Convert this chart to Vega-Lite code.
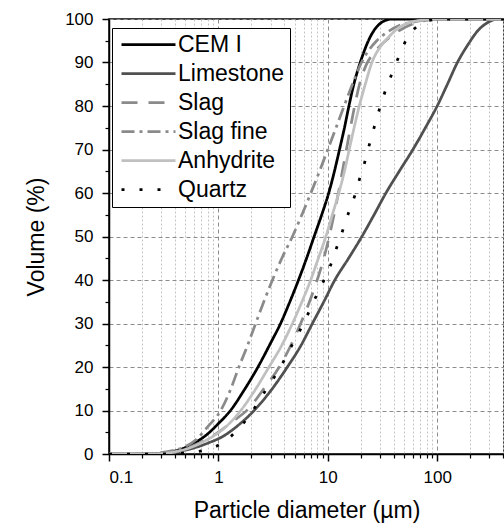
{
  "$schema": "https://vega.github.io/schema/vega-lite/v6.json",
  "width": 395,
  "height": 435,
  "autosize": {"type": "none"},
  "padding": {"left": 109, "top": 19, "right": 0, "bottom": 71},
  "background": "white",
  "view": {"stroke": "black", "strokeWidth": 1.5},
  "config": {
    "font": "Liberation Sans",
    "axis": {
      "labelFont": "Liberation Sans", "titleFont": "Liberation Sans",
      "labelColor": "black", "titleColor": "black",
      "domainColor": "black", "tickColor": "black",
      "titleFontWeight": "normal"
    },
    "legend": {
      "orient": "none", "legendX": 3, "legendY": 9,
      "symbolType": "M-5,0H5", "symbolSize": 116.64, "symbolStrokeWidth": 2.75,
      "symbolOffset": 20, "labelOffset": 18,
      "labelFont": "Liberation Sans", "labelFontSize": 23, "labelColor": "black",
      "padding": 5, "rowPadding": 5,
      "strokeColor": "black", "fillColor": "white", "cornerRadius": 0
    }
  },
  "data": {"values": [
    {"s":"CEM I","d":0.1,"v":0},{"s":"CEM I","d":0.2,"v":0},{"s":"CEM I","d":0.3,"v":0.2},{"s":"CEM I","d":0.4,"v":0.7},{"s":"CEM I","d":0.5,"v":1.5},{"s":"CEM I","d":0.6,"v":2.5},{"s":"CEM I","d":0.77,"v":4.3},{"s":"CEM I","d":1.0,"v":7},{"s":"CEM I","d":1.29,"v":10},{"s":"CEM I","d":1.7,"v":14.5},{"s":"CEM I","d":2.3,"v":20},{"s":"CEM I","d":3.0,"v":25.5},{"s":"CEM I","d":3.7,"v":30},{"s":"CEM I","d":4.5,"v":35},{"s":"CEM I","d":5.4,"v":40},{"s":"CEM I","d":6.4,"v":45},{"s":"CEM I","d":7.5,"v":50},{"s":"CEM I","d":8.8,"v":55},{"s":"CEM I","d":10.2,"v":60},{"s":"CEM I","d":11.5,"v":65},{"s":"CEM I","d":12.8,"v":70},{"s":"CEM I","d":14.2,"v":75},{"s":"CEM I","d":15.6,"v":80},{"s":"CEM I","d":17.3,"v":85},{"s":"CEM I","d":19.8,"v":90},{"s":"CEM I","d":23.5,"v":95},{"s":"CEM I","d":27,"v":97.7},{"s":"CEM I","d":31,"v":99.2},{"s":"CEM I","d":36,"v":99.9},{"s":"CEM I","d":40,"v":100},{"s":"CEM I","d":408,"v":100},
    {"s":"Limestone","d":0.1,"v":0},{"s":"Limestone","d":0.2,"v":0},{"s":"Limestone","d":0.3,"v":0.1},{"s":"Limestone","d":0.4,"v":0.4},{"s":"Limestone","d":0.5,"v":0.9},{"s":"Limestone","d":0.6,"v":1.4},{"s":"Limestone","d":0.8,"v":2.5},{"s":"Limestone","d":1.09,"v":4},{"s":"Limestone","d":1.5,"v":6.5},{"s":"Limestone","d":2.12,"v":10},{"s":"Limestone","d":3.0,"v":14.5},{"s":"Limestone","d":4.27,"v":20},{"s":"Limestone","d":5.7,"v":25},{"s":"Limestone","d":7.23,"v":30},{"s":"Limestone","d":9.2,"v":35},{"s":"Limestone","d":11.6,"v":40},{"s":"Limestone","d":15.5,"v":45},{"s":"Limestone","d":20.5,"v":50},{"s":"Limestone","d":26.5,"v":55},{"s":"Limestone","d":34,"v":60},{"s":"Limestone","d":45,"v":65},{"s":"Limestone","d":60,"v":70},{"s":"Limestone","d":78,"v":75},{"s":"Limestone","d":100,"v":80},{"s":"Limestone","d":124,"v":85},{"s":"Limestone","d":153,"v":90},{"s":"Limestone","d":190,"v":94},{"s":"Limestone","d":235,"v":97.3},{"s":"Limestone","d":290,"v":99.2},{"s":"Limestone","d":340,"v":99.9},{"s":"Limestone","d":380,"v":100},{"s":"Limestone","d":408,"v":100},
    {"s":"Slag","d":0.1,"v":0},{"s":"Slag","d":0.2,"v":0},{"s":"Slag","d":0.3,"v":0.1},{"s":"Slag","d":0.4,"v":0.5},{"s":"Slag","d":0.5,"v":1.2},{"s":"Slag","d":0.6,"v":2},{"s":"Slag","d":0.8,"v":3.5},{"s":"Slag","d":1.0,"v":5},{"s":"Slag","d":1.3,"v":7.2},{"s":"Slag","d":1.9,"v":10.5},{"s":"Slag","d":2.6,"v":15},{"s":"Slag","d":3.6,"v":20},{"s":"Slag","d":4.6,"v":25},{"s":"Slag","d":5.65,"v":30},{"s":"Slag","d":6.8,"v":35},{"s":"Slag","d":8.0,"v":40},{"s":"Slag","d":9.2,"v":45},{"s":"Slag","d":10.3,"v":50},{"s":"Slag","d":11.4,"v":55},{"s":"Slag","d":12.5,"v":60},{"s":"Slag","d":13.6,"v":65},{"s":"Slag","d":14.8,"v":70},{"s":"Slag","d":16.1,"v":75},{"s":"Slag","d":17.6,"v":80},{"s":"Slag","d":19.5,"v":85},{"s":"Slag","d":22.5,"v":89.5},{"s":"Slag","d":27,"v":92.5},{"s":"Slag","d":32,"v":94.5},{"s":"Slag","d":40,"v":96.5},{"s":"Slag","d":50,"v":98},{"s":"Slag","d":65,"v":99.2},{"s":"Slag","d":85,"v":99.8},{"s":"Slag","d":110,"v":100},{"s":"Slag","d":408,"v":100},
    {"s":"Slag fine","d":0.1,"v":0},{"s":"Slag fine","d":0.2,"v":0},{"s":"Slag fine","d":0.3,"v":0.3},{"s":"Slag fine","d":0.4,"v":0.9},{"s":"Slag fine","d":0.49,"v":1.6},{"s":"Slag fine","d":0.62,"v":3.2},{"s":"Slag fine","d":0.8,"v":6.3},{"s":"Slag fine","d":1.05,"v":10},{"s":"Slag fine","d":1.3,"v":15},{"s":"Slag fine","d":1.54,"v":20},{"s":"Slag fine","d":1.85,"v":25},{"s":"Slag fine","d":2.19,"v":30},{"s":"Slag fine","d":2.6,"v":35},{"s":"Slag fine","d":3.12,"v":40},{"s":"Slag fine","d":3.8,"v":45},{"s":"Slag fine","d":4.75,"v":50},{"s":"Slag fine","d":5.8,"v":55},{"s":"Slag fine","d":7.0,"v":60},{"s":"Slag fine","d":8.4,"v":65},{"s":"Slag fine","d":10,"v":70},{"s":"Slag fine","d":11.9,"v":75},{"s":"Slag fine","d":14.1,"v":80},{"s":"Slag fine","d":16.8,"v":85},{"s":"Slag fine","d":20.3,"v":90},{"s":"Slag fine","d":24,"v":93},{"s":"Slag fine","d":28,"v":95},{"s":"Slag fine","d":35,"v":97},{"s":"Slag fine","d":45,"v":98.5},{"s":"Slag fine","d":60,"v":99.3},{"s":"Slag fine","d":80,"v":99.8},{"s":"Slag fine","d":100,"v":100},{"s":"Slag fine","d":408,"v":100},
    {"s":"Anhydrite","d":0.1,"v":0},{"s":"Anhydrite","d":0.2,"v":0},{"s":"Anhydrite","d":0.3,"v":0.1},{"s":"Anhydrite","d":0.4,"v":0.5},{"s":"Anhydrite","d":0.5,"v":1.1},{"s":"Anhydrite","d":0.6,"v":1.8},{"s":"Anhydrite","d":0.75,"v":3},{"s":"Anhydrite","d":0.91,"v":4.2},{"s":"Anhydrite","d":1.2,"v":6.5},{"s":"Anhydrite","d":1.6,"v":10},{"s":"Anhydrite","d":2.2,"v":15},{"s":"Anhydrite","d":2.9,"v":20},{"s":"Anhydrite","d":3.8,"v":25},{"s":"Anhydrite","d":4.75,"v":30},{"s":"Anhydrite","d":5.8,"v":35},{"s":"Anhydrite","d":6.98,"v":40},{"s":"Anhydrite","d":8.2,"v":45},{"s":"Anhydrite","d":9.6,"v":50},{"s":"Anhydrite","d":11.0,"v":55},{"s":"Anhydrite","d":12.6,"v":60},{"s":"Anhydrite","d":14.2,"v":65},{"s":"Anhydrite","d":15.7,"v":70},{"s":"Anhydrite","d":17.4,"v":75},{"s":"Anhydrite","d":19.4,"v":80},{"s":"Anhydrite","d":22,"v":85},{"s":"Anhydrite","d":25.3,"v":90},{"s":"Anhydrite","d":30,"v":93.5},{"s":"Anhydrite","d":35,"v":95.5},{"s":"Anhydrite","d":43,"v":97.7},{"s":"Anhydrite","d":53,"v":99},{"s":"Anhydrite","d":70,"v":99.7},{"s":"Anhydrite","d":100,"v":100},{"s":"Anhydrite","d":408,"v":100},
    {"s":"Quartz","d":0.1,"v":0},{"s":"Quartz","d":0.3,"v":0},{"s":"Quartz","d":0.5,"v":0.2},{"s":"Quartz","d":0.7,"v":0.7},{"s":"Quartz","d":0.85,"v":1.3},{"s":"Quartz","d":1.0,"v":2},{"s":"Quartz","d":1.17,"v":3.06},{"s":"Quartz","d":1.54,"v":5.9},{"s":"Quartz","d":1.97,"v":9.2},{"s":"Quartz","d":2.43,"v":12.8},{"s":"Quartz","d":3.0,"v":16.4},{"s":"Quartz","d":3.71,"v":20},{"s":"Quartz","d":4.45,"v":23.9},{"s":"Quartz","d":5.43,"v":27.9},{"s":"Quartz","d":6.43,"v":31.6},{"s":"Quartz","d":7.6,"v":35.6},{"s":"Quartz","d":8.93,"v":39.2},{"s":"Quartz","d":10.6,"v":43.4},{"s":"Quartz","d":12.0,"v":47.3},{"s":"Quartz","d":13.9,"v":51.9},{"s":"Quartz","d":15.6,"v":55.7},{"s":"Quartz","d":17.7,"v":59.5},{"s":"Quartz","d":19.6,"v":63.4},{"s":"Quartz","d":22.3,"v":68},{"s":"Quartz","d":24.6,"v":72.2},{"s":"Quartz","d":27.5,"v":76.4},{"s":"Quartz","d":30.4,"v":80.2},{"s":"Quartz","d":34.6,"v":84.4},{"s":"Quartz","d":39.8,"v":88.3},{"s":"Quartz","d":45.9,"v":92.1},{"s":"Quartz","d":53.4,"v":95.7},{"s":"Quartz","d":68,"v":98.6},{"s":"Quartz","d":90,"v":99.8},{"s":"Quartz","d":110,"v":100},{"s":"Quartz","d":408,"v":100}
  ]},
  "resolve": {"axis": {"x": "independent", "y": "independent"}},
  "layer": [
    {
      "mark": {"type": "point", "opacity": 0},
      "encoding": {
        "x": {
          "field": "d", "type": "quantitative",
          "scale": {"type": "log", "domain": [0.1, 408], "nice": false},
          "axis": {
            "orient": "bottom", "title": null, "labels": false, "domain": false,
            "values": [0.2,0.3,0.4,0.5,0.6,0.7,0.8,0.9,2,3,4,5,6,7,8,9,20,30,40,50,60,70,80,90,200,300,400],
            "tickSize": 4, "tickWidth": 1.2,
            "grid": true, "gridColor": "#c4c4c4", "gridDash": [2, 2], "gridWidth": 1
          }
        },
        "y": {
          "field": "v", "type": "quantitative",
          "scale": {"domain": [0, 100], "nice": false},
          "axis": {
            "orient": "left", "title": null, "labels": false, "domain": false,
            "values": [5,15,25,35,45,55,65,75,85,95],
            "tickSize": 4, "tickWidth": 1.2, "grid": false
          }
        }
      }
    },
    {
      "mark": {"type": "line", "strokeWidth": 2.75, "interpolate": "monotone", "clip": true},
      "encoding": {
        "x": {
          "field": "d", "type": "quantitative",
          "scale": {"type": "log", "domain": [0.1, 408], "nice": false},
          "axis": {
            "orient": "bottom",
            "title": "Particle diameter (µm)", "titleFontSize": 23, "titlePadding": 14,
            "values": [0.1, 1, 10, 100], "format": "~g",
            "labelFontSize": 17, "tickSize": 7, "labelPadding": 8,
            "domainWidth": 1.5, "tickWidth": 1.5,
            "grid": true, "gridColor": "#8c8c8c", "gridDash": [4, 3], "gridWidth": 1
          }
        },
        "y": {
          "field": "v", "type": "quantitative",
          "scale": {"domain": [0, 100], "nice": false},
          "axis": {
            "orient": "left",
            "title": "Volume (%)", "titleFontSize": 23, "titlePadding": 16,
            "values": [0, 10, 20, 30, 40, 50, 60, 70, 80, 90, 100],
            "labelFontSize": 17, "tickSize": 7, "labelPadding": 9,
            "domainWidth": 1.5, "tickWidth": 1.5,
            "grid": true, "gridColor": "#8c8c8c", "gridDash": [4, 3], "gridWidth": 1
          }
        },
        "color": {
          "field": "s", "type": "nominal", "title": null,
          "scale": {"domain": ["CEM I", "Limestone", "Slag", "Slag fine", "Anhydrite", "Quartz"],
                    "range": ["#000000", "#505050", "#8a8a8a", "#8a8a8a", "#c0c0c0", "#000000"]}
        },
        "strokeDash": {
          "field": "s", "type": "nominal", "title": null,
          "scale": {"domain": ["CEM I", "Limestone", "Slag", "Slag fine", "Anhydrite", "Quartz"],
                    "range": [[1, 0], [1, 0], [16, 11], [13, 5, 3, 5], [1, 0], [3, 15]]}
        }
      }
    }
  ]
}
